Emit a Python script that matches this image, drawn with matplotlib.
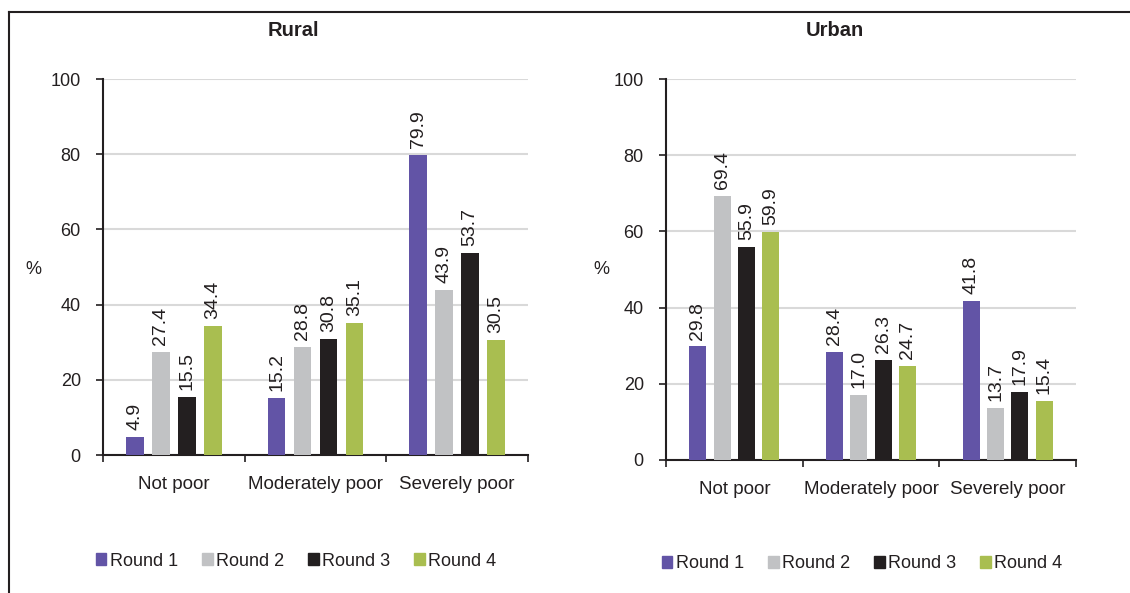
import matplotlib.pyplot as plt
import numpy as np
from matplotlib.patches import Patch
from matplotlib.lines import Line2D

plt.rcParams['font.family'] = ['Liberation Sans', 'DejaVu Sans']

# DATA
categories = ['Not poor', 'Moderately poor', 'Severely poor']
rounds = ['Round 1', 'Round 2', 'Round 3', 'Round 4']
rural = [[4.9, 15.2, 79.9],
         [27.4, 28.8, 43.9],
         [15.5, 30.8, 53.7],
         [34.4, 35.1, 30.5]]
urban = [[29.8, 28.4, 41.8],
         [69.4, 17.0, 13.7],
         [55.9, 26.3, 17.9],
         [59.9, 24.7, 15.4]]
colors = ['#6254a6', '#c1c2c4', '#231f20', '#a9be50']

fig = plt.figure(figsize=(11.3, 5.93), dpi=100)

def panel(rect, data, title, title_x, pct_x, step, width):
    ax = fig.add_axes(rect)
    x = np.arange(len(categories))
    for i, vals in enumerate(data):
        xs = x + (i - 1.5) * step
        ax.bar(xs, vals, width=width, color=colors[i], zorder=3)
        for xx, v in zip(xs, vals):
            ax.annotate('%.1f' % v, (xx, v), xytext=(0, 5), textcoords='offset points',
                        rotation=90, ha='center', va='bottom', fontsize=14, color='#231f20')
    ax.set_xlim(-0.5, 2.5)
    ax.set_ylim(0, 100)
    ax.set_yticks(range(0, 101, 20))
    ax.set_xticks([-0.5, 0.5, 1.5, 2.5])
    ax.set_xticklabels([])
    ax.set_xticks(x, minor=True)
    ax.set_xticklabels(categories, minor=True, fontsize=13.5, color='#231f20')
    ax.tick_params(axis='x', which='minor', length=0, pad=15)
    ax.tick_params(axis='x', which='major', length=5, width=1.2, color='#231f20')
    ax.tick_params(axis='y', length=5, width=1.2, color='#231f20', labelsize=13,
                   labelcolor='#231f20', pad=11)
    ax.grid(axis='y', color='#d9d9d9', lw=1.5, zorder=0)
    for s in ['top', 'right']:
        ax.spines[s].set_visible(False)
    for s in ['left', 'bottom']:
        ax.spines[s].set_linewidth(1.5)
        ax.spines[s].set_color('#231f20')
    fig.text(title_x, 1 - 31 / 593, title, ha='center', va='center',
             fontsize=14.5, fontweight='bold', color='#231f20')
    fig.text(pct_x, 1 - 270 / 593, '%', ha='center', va='center', fontsize=13, color='#231f20')
    return ax

panel([103 / 1130, 1 - 455 / 593, 425 / 1130, 376 / 593], rural, 'Rural', 293 / 1130, 33 / 1130, 0.183, 0.125)
panel([666 / 1130, 1 - 460 / 593, 410 / 1130, 381 / 593], urban, 'Urban', 835 / 1130, 601 / 1130, 0.178, 0.124)

handles = [Patch(color=c, label=r) for c, r in zip(colors, rounds)]
for cx, cy in [(296 / 1130, 1 - 561 / 593), (862 / 1130, 1 - 564 / 593)]:
    fig.legend(handles=handles, loc='center', bbox_to_anchor=(cx, cy), ncol=4, frameon=False,
               fontsize=13, handlelength=0.6, handleheight=0.6, handletextpad=0.2,
               columnspacing=1.3, labelcolor='#231f20')

# frame lines
fig.add_artist(Line2D([9 / 1130, 9 / 1130], [0, 1 - 12 / 593], color='#231f20', lw=1.5))
fig.add_artist(Line2D([9 / 1130, 1], [1 - 12 / 593, 1 - 12 / 593], color='#231f20', lw=1.5))

plt.savefig('out.png', dpi=100)
